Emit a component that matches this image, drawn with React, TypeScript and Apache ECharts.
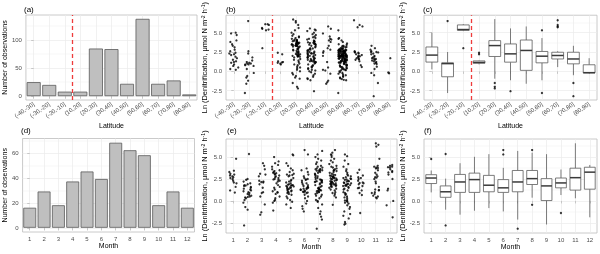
import React, { useEffect, useRef } from "react";
import * as echarts from "echarts";

const FONT = "Liberation Sans, Arial, Helvetica, sans-serif";

// ---------- categories & ticks ----------
const latCats = ["(-40,-30]", "(-30,-20]", "(-20,-10]", "(10,20]", "(20,30]", "(30,40]", "(40,50]", "(50,60]", "(60,70]", "(70,80]", "(80,90]"];
const monthCats = ["1", "2", "3", "4", "5", "6", "7", "8", "9", "10", "11", "12"];

const latCounts = [25, 20, 8, 8, 85, 84, 22, 138, 22, 28, 3];
const monthCounts = [16, 29, 18, 37, 45, 39, 68, 62, 58, 18, 29, 16];

const latCountTicks = [0, 50, 100];
const latCountMinor = [25, 75, 125];
const monthCountTicks = [0, 20, 40, 60];
const monthCountMinor = [10, 30, 50, 70];
const lnTicks = [-2.5, 0, 2.5, 5];
const lnMinor = [-1.25, 1.25, 3.75, 6.25];
const hemisphereDivide = [2.5];

// ---------- Ln(denitrification) by latitude band ----------
const denLat = [
  [5.0, 4.9, 4.7, 4.0, 3.8, 3.5, 3.3, 3.1, 2.8, 2.6, 2.4, 2.3, 2.2, 2.1, 1.9, 1.7, 1.5, 1.3, 1.2, 1.1, 0.9, 0.7, 0.5, 0.3, 0.2],
  [6.5, 2.6, 2.3, 1.8, 1.4, 1.2, 1.1, 1.0, 1.0, 0.9, 0.9, 0.8, 0.7, 0.3, -0.2, -0.6, -0.8, -1.2, -1.6, -2.8],
  [6.1, 6.1, 6.0, 5.6, 5.5, 5.4, 5.3, 3.0],
  [2.4, 2.2, 1.3, 1.2, 1.15, 1.1, 1.0, 0.9],
  [6.7, 6.5, 6.3, 6.0, 5.6, 5.3, 5.0, 4.8, 4.6, 4.5, 4.4, 4.3, 4.2, 4.1, 4.05, 4.0, 4.0, 3.95, 3.9, 3.9, 3.85, 3.8,
   3.75, 3.7, 3.7, 3.65, 3.6, 3.6, 3.55, 3.5, 3.5, 3.45, 3.4, 3.4, 3.35, 3.35, 3.3, 3.3, 3.25, 3.2, 3.2, 3.1, 3.0,
   2.9, 2.85, 2.8, 2.7, 2.65, 2.6, 2.5, 2.45, 2.4, 2.3, 2.25, 2.2, 2.15, 2.1, 2.05, 2.0, 2.0, 1.98, 1.95, 1.93, 1.9,
   1.8, 1.6, 1.5, 1.4, 1.2, 1.0, 0.9, 0.8, 0.6, 0.5, 0.4, 0.2, 0.0, -0.2, -0.4, -0.6, -0.8, -0.95, -1.5, -2.0, -2.2],
  [5.55, 5.4, 5.3, 5.2, 5.0, 4.8, 4.7, 4.5, 4.4, 4.3, 4.2, 4.1, 4.0, 3.9, 3.85, 3.8, 3.75, 3.7, 3.65, 3.6, 3.55,
   3.5, 3.45, 3.4, 3.3, 3.2, 3.1, 3.0, 2.95, 2.9, 2.8, 2.75, 2.7, 2.6, 2.55, 2.5, 2.45, 2.4, 2.35, 2.3, 2.28, 2.26,
   2.2, 2.1, 2.05, 2.0, 1.95, 1.9, 1.85, 1.8, 1.75, 1.7, 1.65, 1.6, 1.55, 1.5, 1.45, 1.4, 1.35, 1.3, 1.25, 1.22, 1.2,
   1.15, 1.1, 1.0, 0.9, 0.8, 0.7, 0.6, 0.5, 0.4, 0.3, 0.2, 0.1, 0.0, -0.1, -0.3, -0.5, -0.7, -0.9, -1.0, -1.15, -2.56],
  [5.8, 5.5, 4.9, 4.5, 4.2, 4.1, 4.0, 3.8, 3.3, 3.0, 2.8, 2.6, 2.4, 2.0, 1.2, 0.5, 0.2, 0.1, -0.3, -1.2, -1.4, -1.6],
  [5.3, 4.3, 4.2, 4.0, 3.8, 3.6, 3.5, 3.4, 3.3, 3.25, 3.2, 3.15, 3.1, 3.05, 3.0, 2.95, 2.9, 2.9, 2.85, 2.8, 2.8, 2.75, 2.75, 2.7, 2.7, 2.68, 2.66, 2.64, 2.62, 2.6, 2.6, 2.58, 2.58, 2.57,
   2.55, 2.53, 2.5, 2.48, 2.45, 2.43, 2.4, 2.38, 2.35, 2.33, 2.3, 2.28, 2.25, 2.23, 2.2, 2.18, 2.15, 2.13, 2.1, 2.1, 2.08, 2.06, 2.05, 2.04, 2.03, 2.02, 2.01, 2.0, 2.0, 1.99, 1.98, 1.98, 1.97, 1.97, 1.96,
   1.94, 1.92, 1.9, 1.88, 1.85, 1.82, 1.8, 1.78, 1.75, 1.72, 1.7, 1.67, 1.65, 1.62, 1.6, 1.57, 1.55, 1.52, 1.5, 1.47, 1.45, 1.42, 1.4, 1.37, 1.35, 1.32, 1.3, 1.27, 1.25, 1.22, 1.2, 1.17, 1.15, 1.12, 1.1,
   1.05, 1.0, 0.95, 0.9, 0.85, 0.8, 0.75, 0.7, 0.65, 0.6, 0.55, 0.5, 0.45, 0.4, 0.35, 0.3, 0.25, 0.2, 0.15, 0.1, 0.0, -0.1, -0.2, -0.3, -0.4, -0.5, -0.6, -0.7, -0.8, -0.9, -1.0, -1.1, -1.15, -2.8],
  [6.6, 6.0, 5.8, 5.7, 2.6, 2.5, 2.45, 2.4, 2.3, 2.2, 2.1, 2.0, 1.95, 1.9, 1.8, 1.7, 1.6, 1.55, 1.5, 1.3, 0.8, 0.55],
  [3.3, 3.0, 2.8, 2.6, 2.5, 2.5, 2.45, 2.3, 2.2, 2.0, 1.9, 1.8, 1.7, 1.6, 1.6, 1.5, 1.4, 1.3, 1.2, 1.1, 1.0, 0.95, 0.6, 0.3, -0.2, -0.5, -1.5, -3.2],
  [1.7, -0.15, -0.25],
];

// ---------- Ln(denitrification) by month ----------
const denMonth = [
  [4.8, 3.45, 3.3, 3.1, 3.0, 2.9, 2.8, 2.7, 2.6, 2.5, 2.3, 2.1, 2.0, 1.6, 1.2, 0.95],
  [5.35, 2.5, 2.4, 2.2, 2.0, 1.9, 1.8, 1.75, 1.7, 1.6, 1.5, 1.4, 1.3, 1.2, 1.1, 1.0, 0.9, 0.8, 0.7, 0.6, 0.5, 0.45, 0.4, 0.3, 0.1, -0.2, -0.7, -1.0, -2.8],
  [4.3, 4.0, 3.6, 3.1, 3.0, 2.8, 2.3, 2.2, 2.15, 2.1, 1.9, 1.5, 1.0, 0.9, 0.5, -0.4, -1.3, -1.57],
  [5.0, 4.5, 4.3, 4.1, 3.9, 3.6, 3.5, 3.4, 3.3, 3.2, 3.15, 3.1, 3.0, 2.9, 2.8, 2.7, 2.6, 2.5, 2.45, 2.4, 2.3, 2.2, 2.0, 1.8, 1.6, 1.5, 1.3, 1.1, 1.0, 0.95, 0.8, 0.5, 0.3, 0.1, 0.0, -0.2, -1.1],
  [5.3, 5.2, 4.3, 4.0, 3.7, 3.5, 3.3, 3.1, 3.0, 2.95, 2.9, 2.8, 2.6, 2.4, 2.3, 2.2, 2.1, 2.0, 1.9, 1.85, 1.8, 1.78, 1.75, 1.7, 1.65, 1.6, 1.55, 1.5, 1.45, 1.4, 1.3, 1.25, 1.2, 1.1, 1.05, 1.0, 0.9, 0.8, 0.7, 0.5, 0.3, 0.1, -0.1, -0.4, -0.8],
  [5.8, 5.3, 3.7, 3.5, 3.3, 3.0, 2.8, 2.6, 2.5, 2.45, 2.4, 2.3, 2.1, 2.0, 1.9, 1.8, 1.7, 1.6, 1.55, 1.5, 1.45, 1.4, 1.35, 1.3, 1.25, 1.2, 1.1, 1.05, 1.0, 0.95, 0.9, 0.7, 0.5, 0.3, 0.0, -0.3, -0.6, -0.9, -1.2],
  [5.7, 5.3, 5.0, 4.8, 4.6, 4.4, 4.2, 4.0, 3.9, 3.8, 3.7, 3.65, 3.6, 3.55, 3.5, 3.48, 3.45,
   3.4, 3.3, 3.2, 3.1, 3.0, 2.9, 2.8, 2.7, 2.6, 2.5, 2.45, 2.4, 2.35, 2.3, 2.25, 2.2, 2.18,
   2.15, 2.1, 2.0, 1.9, 1.8, 1.7, 1.6, 1.5, 1.45, 1.4, 1.35, 1.3, 1.25, 1.2, 1.15, 1.1, 1.05,
   1.0, 0.9, 0.8, 0.7, 0.6, 0.5, 0.3, 0.1, 0.0, -0.1, -0.4, -0.8, -1.2, -1.5, -1.8, -2.13, -3.17],
  [5.8, 5.5, 5.3, 5.2, 5.0, 4.8, 4.6, 4.4, 4.2, 4.0, 3.9, 3.8, 3.7, 3.6, 3.5, 3.48,
   3.4, 3.3, 3.2, 3.1, 3.0, 2.95, 2.9, 2.85, 2.8, 2.75, 2.7, 2.65, 2.6, 2.58, 2.55,
   2.5, 2.45, 2.4, 2.35, 2.3, 2.25, 2.2, 2.15, 2.1, 2.05, 2.0, 1.97, 1.94, 1.9, 1.88,
   1.85, 1.8, 1.75, 1.7, 1.65, 1.6, 1.5, 1.4, 1.3, 1.2, 1.0, 0.9, 0.8, 0.6, 0.4, -0.45],
  [5.3, 5.1, 4.6, 4.2, 3.9, 3.6, 3.4, 3.2, 3.0, 2.9, 2.8, 2.7, 2.6, 2.55,
   2.5, 2.45, 2.4, 2.3, 2.25, 2.2, 2.1, 2.05, 2.0, 1.95, 1.9, 1.85, 1.8, 1.75, 1.72,
   1.7, 1.6, 1.5, 1.4, 1.3, 1.2, 1.0, 0.9, 0.8, 0.7, 0.5, 0.4, 0.3, 0.1, 0.05,
   0.0, -0.1, -0.2, -0.3, -0.5, -0.7, -0.9, -1.2, -1.5, -1.7, -2.0, -2.4, -2.6, -2.69],
  [3.55, 3.2, 2.9, 2.7, 2.6, 2.5, 2.3, 2.1, 2.05, 2.0, 1.9, 1.7, 1.5, 1.45, 1.2, 0.9, 0.67, -1.38],
  [6.57, 6.4, 6.2, 4.8, 4.0, 3.9, 3.8, 3.75, 3.7, 3.5, 3.2, 3.0, 2.8, 2.7, 2.65, 2.5, 2.2, 2.0, 1.6, 1.3, 1.25, 1.2, 1.0, 0.9, 0.8, 0.6, 0.5, 0.4, 0.3],
  [4.1, 4.0, 3.9, 3.85, 3.8, 3.6, 3.4, 3.3, 3.25, 3.0, 2.5, 1.4, 1.2, 0.0, -0.5, -1.87],
];

// ---------- box statistics [lower whisker, Q1, median, Q3, upper whisker] ----------
const latBox = [
  [0.25, 1.2, 2.1, 3.15, 5.0],
  [-2.8, -0.7, 1.0, 1.1, 2.5],
  [5.2, 5.3, 5.4, 6.0, 6.1],
  [0.9, 1.05, 1.15, 1.35, 1.4],
  [-0.95, 1.92, 3.33, 3.97, 6.75],
  [-1.15, 1.19, 2.26, 3.54, 5.55],
  [-1.6, 0.13, 2.7, 4.05, 5.8],
  [-1.15, 1.1, 1.96, 2.57, 4.3],
  [0.55, 1.6, 2.05, 2.47, 2.6],
  [-0.5, 0.97, 1.6, 2.47, 3.3],
  [-0.25, -0.2, -0.17, 0.85, 1.7],
];
const latOutliers = [[], [6.5], [3.0], [2.2, 2.4], [-1.5, -2.0, -2.2], [-2.56], [], [5.3, -2.8], [6.6, 6.0, 5.8, 5.7], [-1.5, -3.2], []];

const monthBox = [
  [0.97, 1.98, 2.61, 2.99, 3.47],
  [-1.0, 0.41, 1.04, 1.71, 2.54],
  [-1.57, 0.97, 2.16, 3.02, 4.3],
  [-1.12, 0.97, 2.43, 3.17, 5.03],
  [-0.82, 1.04, 1.79, 2.91, 5.33],
  [-1.2, 0.97, 1.49, 2.43, 3.77],
  [-2.13, 1.04, 2.16, 3.47, 5.7],
  [0.37, 1.87, 2.54, 3.47, 5.5],
  [-2.69, 0.04, 1.71, 2.54, 5.33],
  [0.67, 1.49, 2.05, 2.61, 3.58],
  [0.3, 1.23, 2.65, 3.73, 6.57],
  [-1.87, 1.34, 3.28, 3.84, 4.1],
];
const monthOutliers = [[4.78], [5.35, -2.8], [], [], [], [5.8, 5.3], [-3.17], [5.8, -0.45], [], [-1.38], [], []];

// ---------- styling ----------
const GRID_C = "#ebebeb";
const BORDER_C = "#bdbdbd";
const TICK_C = "#b3b3b3";
const LABEL_C = "#4d4d4d";

const panels = [
  { left: 25, top: 15, width: 172, height: 85 },
  { left: 226, top: 15, width: 171, height: 85 },
  { left: 424, top: 15, width: 173, height: 85 },
  { left: 22, top: 138.5, width: 172.5, height: 93.5 },
  { left: 226, top: 139, width: 171, height: 94 },
  { left: 424, top: 139, width: 173, height: 94 },
];

const LN_NAME = "Ln (Denitrification, μmol N m{s|-2} h{s|-1})";

function catAxis(gi: number, cats: string[], name: string, rotate: number, nameGap: number, extra: any = {}) {
  return {
    type: "category",
    gridIndex: gi,
    data: cats,
    boundaryGap: true,
    axisLine: { show: false },
    axisTick: { show: true, alignWithLabel: true, length: 2.5, lineStyle: { color: TICK_C, width: 0.7 } },
    axisLabel: { fontSize: 6, color: LABEL_C, rotate, margin: 3.5, interval: 0, fontFamily: FONT },
    splitLine: { show: false },
    name,
    nameLocation: "middle",
    nameGap,
    nameTextStyle: { fontSize: 7, color: "#000", fontFamily: FONT },
    ...extra,
  };
}

function gridXAxis(gi: number, n: number) {
  return {
    type: "value",
    gridIndex: gi,
    min: -0.5,
    max: n - 0.5,
    show: true,
    axisLine: { show: false },
    axisLabel: { show: false },
    axisTick: { show: false, customValues: Array.from({ length: n }, (_, i) => i) },
    splitLine: { show: true, lineStyle: { color: GRID_C, width: 0.7 } },
  };
}

function valAxis(gi: number, min: number, max: number, ticks: number[], fmt: (v: number) => string, name: string, nameGap: number, nameSize = 7) {
  return {
    type: "value",
    gridIndex: gi,
    min,
    max,
    axisLine: { show: false },
    axisTick: { show: true, customValues: ticks, length: 2.5, lineStyle: { color: TICK_C, width: 0.7 } },
    axisLabel: { customValues: ticks, formatter: fmt, fontSize: 6, color: LABEL_C, margin: 4, fontFamily: FONT },
    splitLine: { show: true, lineStyle: { color: GRID_C, width: 0.7 } },
    name,
    nameLocation: "middle",
    nameGap,
    nameTextStyle: {
      fontSize: nameSize,
      color: "#000",
      fontFamily: FONT,
      rich: { s: { fontSize: 5.2, verticalAlign: "top", fontFamily: FONT, color: "#000" } },
    },
  };
}

function minorYAxis(gi: number, min: number, max: number, minors: number[]) {
  return {
    type: "value",
    gridIndex: gi,
    min,
    max,
    show: true,
    position: "left",
    axisLine: { show: false },
    axisLabel: { show: false },
    axisTick: { show: false, customValues: minors },
    splitLine: { show: true, lineStyle: { color: GRID_C, width: 0.35 } },
  };
}

const countFmt = (v: number) => String(v);
const lnFmt = (v: number) => v.toFixed(1);

function boxSeries(gi: number, stats: number[][]) {
  return {
    type: "custom",
    xAxisIndex: 2 * gi,
    yAxisIndex: 2 * gi,
    data: stats.map((s, i) => [i, ...s]),
    encode: { x: 0, y: [1, 2, 3, 4, 5] },
    renderItem: (params: any, api: any) => {
      const x = api.value(0);
      const pMin = api.coord([x, api.value(1)]);
      const yQ1 = api.coord([x, api.value(2)])[1];
      const yMed = api.coord([x, api.value(3)])[1];
      const yQ3 = api.coord([x, api.value(4)])[1];
      const yMax = api.coord([x, api.value(5)])[1];
      const cx = pMin[0];
      const bw = api.size([1, 0])[0] * 0.75;
      const st = { stroke: "#5a5a5a", lineWidth: 0.8, fill: null };
      return {
        type: "group",
        children: [
          { type: "line", shape: { x1: cx, y1: yMax, x2: cx, y2: yQ3 }, style: st },
          { type: "line", shape: { x1: cx, y1: yQ1, x2: cx, y2: pMin[1] }, style: st },
          { type: "rect", shape: { x: cx - bw / 2, y: yQ3, width: bw, height: Math.max(yQ1 - yQ3, 0.5) }, style: { stroke: "#5a5a5a", lineWidth: 0.8, fill: "#ffffff" } },
          { type: "line", shape: { x1: cx - bw / 2, y1: yMed, x2: cx + bw / 2, y2: yMed }, style: { stroke: "#3a3a3a", lineWidth: 1.5 } },
        ],
      };
    },
    z: 3,
  };
}

function pointSeries(gi: number, groups: number[][], size: number) {
  return {
    type: "scatter",
    xAxisIndex: 2 * gi,
    yAxisIndex: 2 * gi,
    data: groups.flatMap((vals, i) => vals.map((v) => [i, v])),
    symbolSize: size,
    itemStyle: { color: "#000" },
    z: 4,
  };
}

function dividerSeries(gi: number) {
  return {
    type: "line",
    xAxisIndex: 2 * gi + 1,
    yAxisIndex: 2 * gi,
    data: [],
    markLine: {
      silent: true,
      symbol: ["none", "none"],
      label: { show: false },
      lineStyle: { color: "#ee3b3b", type: [4, 3], width: 1.3 },
      data: hemisphereDivide.map((v) => ({ xAxis: v })),
    },
    z: 5,
  };
}

function buildOption() {
  const grid = panels.map((p) => ({
    ...p,
    show: true,
    borderColor: BORDER_C,
    borderWidth: 0.8,
    backgroundColor: "#fff",
    containLabel: false,
  }));

  const LAT_MIN = -3.7, LAT_MAX = 7.25;
  const MON_MIN = -3.66, MON_MAX = 7.06;

  const xAxis = [
    catAxis(0, latCats, "Latitude", 35, 15.5),
    gridXAxis(0, latCats.length),
    catAxis(1, latCats, "Latitude", 35, 15.5, { jitter: 9 }),
    gridXAxis(1, latCats.length),
    catAxis(2, latCats, "Latitude", 35, 15.5),
    gridXAxis(2, latCats.length),
    catAxis(3, monthCats, "Month", 0, 9.5),
    gridXAxis(3, monthCats.length),
    catAxis(4, monthCats, "Month", 0, 9.5, { jitter: 8 }),
    gridXAxis(4, monthCats.length),
    catAxis(5, monthCats, "Month", 0, 9.5),
    gridXAxis(5, monthCats.length),
  ];

  const yAxis = [
    valAxis(0, -6.9, 144.9, latCountTicks, countFmt, "Number of observations", 15),
    minorYAxis(0, -6.9, 144.9, latCountMinor),
    valAxis(1, LAT_MIN, LAT_MAX, lnTicks, lnFmt, LN_NAME, 17.5, 7.4),
    minorYAxis(1, LAT_MIN, LAT_MAX, lnMinor),
    valAxis(2, LAT_MIN, LAT_MAX, lnTicks, lnFmt, LN_NAME, 18, 7.4),
    minorYAxis(2, LAT_MIN, LAT_MAX, lnMinor),
    valAxis(3, -3.4, 71.4, monthCountTicks, countFmt, "Number of observations", 10.5),
    minorYAxis(3, -3.4, 71.4, monthCountMinor),
    valAxis(4, MON_MIN, MON_MAX, lnTicks, lnFmt, LN_NAME, 17.5, 7.4),
    minorYAxis(4, MON_MIN, MON_MAX, lnMinor),
    valAxis(5, MON_MIN, MON_MAX, lnTicks, lnFmt, LN_NAME, 17.5, 7.4),
    minorYAxis(5, MON_MIN, MON_MAX, lnMinor),
  ];

  const barStyle = { color: "#bfbfbf", borderColor: "#595959", borderWidth: 0.8 };

  const series: any[] = [
    { type: "bar", xAxisIndex: 0, yAxisIndex: 0, data: latCounts, barWidth: "90%", itemStyle: barStyle, z: 3 },
    dividerSeries(0),
    pointSeries(1, denLat, 2.3),
    dividerSeries(1),
    boxSeries(2, latBox),
    pointSeries(2, latOutliers, 2.3),
    dividerSeries(2),
    { type: "bar", xAxisIndex: 6, yAxisIndex: 6, data: monthCounts, barWidth: "90%", itemStyle: barStyle, z: 3 },
    pointSeries(4, denMonth, 2.3),
    boxSeries(5, monthBox),
    pointSeries(5, monthOutliers, 2.3),
  ];

  const tagPos = [
    [24, 5.5], [226, 5.5], [423, 5.5],
    [21, 126.5], [227, 126.5], [424, 126.5],
  ];
  const tags = ["(a)", "(b)", "(c)", "(d)", "(e)", "(f)"];
  const title = tags.map((t, i) => ({
    text: t,
    left: tagPos[i][0],
    top: tagPos[i][1],
    padding: 0,
    textStyle: { fontSize: 8, fontWeight: "normal", color: "#000", fontFamily: FONT },
  }));

  return {
    animation: false,
    textStyle: { fontFamily: FONT },
    title,
    grid,
    xAxis,
    yAxis,
    series,
  };
}

export default function App() {
  const ref = useRef<HTMLDivElement>(null);
  useEffect(() => {
    document.body.style.margin = "0";
    document.body.style.background = "#ffffff";
    if (!ref.current) return;
    const chart = echarts.init(ref.current, undefined, { renderer: "svg" });
    chart.setOption(buildOption() as any);
    return () => chart.dispose();
  }, []);
  return (
    <div
      ref={ref}
      style={{ position: "absolute", left: 0, top: 0, width: 600, height: 254, willChange: "transform" }}
    />
  );
}
